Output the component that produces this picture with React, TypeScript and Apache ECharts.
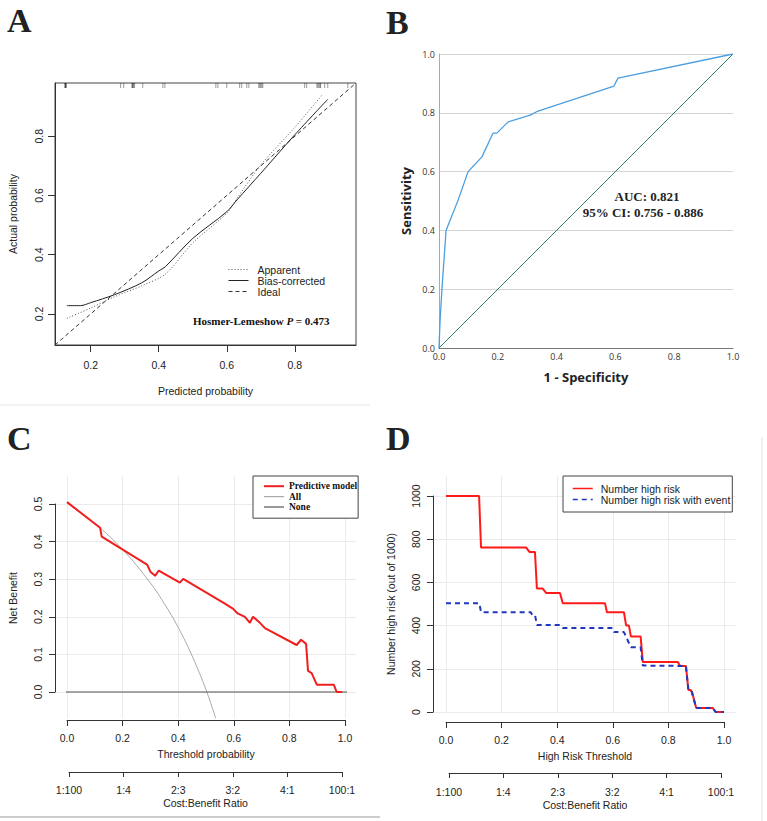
import React, { useEffect, useRef } from 'react';
import * as echarts from 'echarts';

const SANS = '"Liberation Sans", Arial, Helvetica, sans-serif';
const SERIF = '"Liberation Serif", "Times New Roman", Times, serif';
const OPEN = '"Open Sans", "Noto Sans", sans-serif';

// ---------- Panel A: calibration curve ----------
const calibRange = [0.095, 0.98];
const calibTicks = [0.2, 0.4, 0.6, 0.8];
const apparentX = [0.13, 0.2, 0.27, 0.35, 0.42, 0.5, 0.6, 0.63, 0.7, 0.8, 0.882];
const apparentY = [0.185, 0.22, 0.258, 0.295, 0.335, 0.44, 0.54, 0.59, 0.703, 0.83, 0.942];
const biasX = [0.13, 0.17, 0.2, 0.27, 0.35, 0.4, 0.42, 0.5, 0.6, 0.63, 0.7, 0.8, 0.897];
const biasY = [0.228, 0.228, 0.238, 0.265, 0.305, 0.345, 0.36, 0.455, 0.545, 0.585, 0.675, 0.805, 0.925];
const idealX = [0.095, 0.98];
const rugX = [0.124, 0.125, 0.126, 0.127, 0.128, 0.288, 0.297, 0.321, 0.323, 0.324, 0.326, 0.329, 0.353,
  0.412, 0.418, 0.568, 0.574, 0.6, 0.638, 0.644, 0.659, 0.665, 0.694, 0.697, 0.7, 0.703, 0.706,
  0.829, 0.835, 0.865, 0.868, 0.871, 0.874, 0.876, 0.888, 0.897, 0.956];
const hosmerP = '0.473';

// ---------- Panel B: ROC ----------
const rocFpr = [0, 0.004, 0.01, 0.024, 0.065, 0.099, 0.146, 0.184, 0.197, 0.235, 0.31, 0.337, 0.595, 0.609, 1];
const rocTpr = [0, 0.1, 0.2, 0.4, 0.503, 0.6, 0.65, 0.731, 0.731, 0.769, 0.792, 0.806, 0.891, 0.918, 1];
const refDiag = [0, 1];
const aucText = 'AUC: 0.821';
const ciText = '95% CI: 0.756 - 0.886';

// ---------- Panel C: decision curve ----------
const dcaThr = [0, 0.119, 0.125, 0.288, 0.3, 0.317, 0.33, 0.406, 0.418, 0.568, 0.598, 0.612, 0.64, 0.658, 0.669, 0.694, 0.712, 0.826, 0.842, 0.86, 0.867, 0.88, 0.899, 0.96, 0.97, 0.99];
const dcaModel = [0.505, 0.437, 0.413, 0.339, 0.32, 0.309, 0.323, 0.291, 0.301, 0.235, 0.221, 0.21, 0.2, 0.184, 0.2, 0.184, 0.17, 0.125, 0.139, 0.128, 0.056, 0.05, 0.019, 0.019, 0, 0];
const dcaAllThr = [0, 0.1, 0.2, 0.3, 0.35, 0.4, 0.45, 0.5, 0.535];
const dcaAll = [0.503, 0.448, 0.379, 0.29, 0.235, 0.172, 0.096, 0.006, -0.07];
const dcaNoneThr = [-0.043, 1.04];
const dcaNone = [0, 0];
const costLabels = ['1:100', '1:4', '2:3', '3:2', '4:1', '100:1'];

// ---------- Panel D: clinical impact curve ----------
const riskThr = [0, 0.119, 0.126, 0.288, 0.3, 0.32, 0.327, 0.347, 0.36, 0.41, 0.42, 0.572, 0.579, 0.64, 0.648, 0.658, 0.665, 0.7, 0.708, 0.834, 0.842, 0.863, 0.872, 0.88, 0.885, 0.9, 0.96, 0.97, 1.0];
const riskN = [1000, 1000, 762, 762, 741, 741, 572, 572, 551, 551, 503, 503, 462, 462, 400, 400, 350, 350, 231, 231, 213, 213, 102, 102, 92, 18, 18, 0, 0];
const eventThr = [0, 0.12, 0.126, 0.305, 0.31, 0.32, 0.327, 0.41, 0.42, 0.6, 0.605, 0.64, 0.665, 0.7, 0.708, 0.863, 0.872, 0.88, 0.885, 0.9, 0.96, 0.97, 1.0];
const eventN = [503, 503, 462, 462, 450, 450, 403, 403, 389, 389, 370, 370, 300, 300, 215, 213, 100, 100, 90, 18, 18, 0, 0];

const zip = (xs: number[], ys: number[]) => xs.map((x, i) => [x, ys[i]]);

const rText = { fontFamily: SANS, fontSize: 10.5, color: '#222' };
const hiddenAxis = (gridIndex: number, extra: any = {}) => ({
  gridIndex, type: 'value', min: 0, max: 1,
  axisLine: { show: false }, axisTick: { show: false }, axisLabel: { show: false }, splitLine: { show: false },
  ...extra,
});
const rAxis = (gridIndex: number, extra: any = {}) => ({
  gridIndex, type: 'value',
  axisLine: { show: true, onZero: false, lineStyle: { color: '#333', width: 1 } },
  axisTick: { show: true, length: 6, lineStyle: { color: '#333', width: 1 } },
  axisLabel: { show: true, margin: 12, ...rText, formatter: (v: number) => v.toFixed(1) },
  splitLine: { show: false },
  nameLocation: 'middle',
  nameTextStyle: { ...rText },
  ...extra,
});
const gridLineStyle = { color: '#ebebeb', width: 1 };
const letter = (t: string, x: number, y: number) => ({
  type: 'text', x, y,
  style: { text: t, fontFamily: SERIF, fontWeight: 'bold', fontSize: 34, fill: '#222', textVerticalAlign: 'middle' },
});

export default function App() {
  const ref = useRef<HTMLDivElement>(null);
  useEffect(() => {
    if (!ref.current) return;
    const chart = echarts.init(ref.current, null, { renderer: 'svg' });
    const option: any = {
      animation: false,
      backgroundColor: '#ffffff',
      grid: [
        { left: 55, top: 83, width: 301, height: 262, show: true, borderColor: '#444', borderWidth: 1, backgroundColor: 'transparent' },
        { left: 439, top: 54, width: 294, height: 294 },
        { left: 67, top: 504, width: 278, height: 188 },
        { left: 67, top: 476, width: 278, height: 242 },
        { left: 55, top: 504, width: 301, height: 188 },
        { left: 69, top: 771, width: 273, height: 1 },
        { left: 446, top: 496, width: 278, height: 216 },
        { left: 446, top: 476, width: 278, height: 237 },
        { left: 433, top: 496, width: 303, height: 216 },
        { left: 449, top: 772, width: 272, height: 1 },
      ],
      xAxis: [
        rAxis(0, {
          min: calibRange[0], max: calibRange[1],
          axisTick: { show: true, length: 7, customValues: calibTicks, lineStyle: { color: '#333' } },
          axisLabel: { show: true, margin: 14, ...rText, customValues: calibTicks, formatter: (v: number) => v.toFixed(1) },
          name: 'Predicted probability', nameGap: 40,
        }),
        {
          gridIndex: 1, type: 'value', min: 0, max: 1, interval: 0.2,
          axisLine: { show: true, onZero: false, lineStyle: { color: '#777', width: 1 } },
          axisTick: { show: false },
          axisLabel: { margin: 4, fontFamily: OPEN, fontSize: 9, color: '#333', formatter: (v: number) => v.toFixed(1) },
          splitLine: { show: false },
          name: '1 - Specificity', nameLocation: 'middle', nameGap: 22,
          nameTextStyle: { fontFamily: OPEN, fontSize: 13, fontWeight: 'bold', color: '#222' },
        },
        rAxis(2, { min: 0, max: 1, interval: 0.2, offset: 28, name: 'Threshold probability', nameGap: 28 }),
        hiddenAxis(3, { interval: 0.2, splitLine: { show: true, lineStyle: gridLineStyle } }),
        hiddenAxis(4),
        rAxis(5, {
          min: 0, max: 1, interval: 0.2,
          axisTick: { show: true, length: 5, lineStyle: { color: '#333' } },
          axisLabel: { show: true, margin: 12, ...rText, formatter: (v: number) => costLabels[Math.round(v / 0.2)] },
          name: 'Cost:Benefit Ratio', nameGap: 25,
        }),
        rAxis(6, { min: 0, max: 1, interval: 0.2, offset: 10, name: 'High Risk Threshold', nameGap: 28 }),
        hiddenAxis(7, { interval: 0.2, splitLine: { show: true, lineStyle: gridLineStyle } }),
        hiddenAxis(8),
        rAxis(9, {
          min: 0, max: 1, interval: 0.2,
          axisTick: { show: true, length: 5, lineStyle: { color: '#333' } },
          axisLabel: { show: true, margin: 13, ...rText, formatter: (v: number) => costLabels[Math.round(v / 0.2)] },
          name: 'Cost:Benefit Ratio', nameGap: 26,
        }),
      ],
      yAxis: [
        rAxis(0, {
          min: calibRange[0], max: calibRange[1],
          axisTick: { show: true, length: 7, customValues: calibTicks, lineStyle: { color: '#333' } },
          axisLabel: { show: true, margin: 11, rotate: 90, ...rText, customValues: calibTicks, formatter: (v: number) => v.toFixed(1) },
          name: 'Actual probability', nameGap: 37,
        }),
        {
          gridIndex: 1, type: 'value', min: 0, max: 1, interval: 0.2,
          axisLine: { show: true, onZero: false, lineStyle: { color: '#aaa', width: 1 } },
          axisTick: { show: false },
          axisLabel: { margin: 4, fontFamily: OPEN, fontSize: 9, color: '#333', formatter: (v: number) => v.toFixed(1) },
          splitLine: { show: true, lineStyle: { color: '#d4d4d4', width: 1 } },
          name: 'Sensitivity', nameLocation: 'middle', nameGap: 27,
          nameTextStyle: { fontFamily: OPEN, fontSize: 13, fontWeight: 'bold', color: '#222' },
        },
        rAxis(2, { min: 0, max: 0.5, interval: 0.1, offset: 12,
          axisLabel: { show: true, margin: 12, rotate: 90, ...rText, formatter: (v: number) => v.toFixed(1) },
          name: 'Net Benefit', nameGap: 37 }),
        hiddenAxis(3),
        hiddenAxis(4, { max: 0.5, interval: 0.1, splitLine: { show: true, lineStyle: gridLineStyle } }),
        hiddenAxis(5),
        rAxis(6, { min: 0, max: 1000, interval: 200, offset: 13,
          axisLabel: { show: true, margin: 12, rotate: 90, ...rText, formatter: (v: number) => String(v) },
          name: 'Number high risk (out of 1000)', nameGap: 37 }),
        hiddenAxis(7),
        hiddenAxis(8, { max: 1000, interval: 200, splitLine: { show: true, lineStyle: gridLineStyle } }),
        hiddenAxis(9),
      ],
      legend: [
        {
          data: ['Apparent', 'Bias-corrected', 'Ideal'], orient: 'vertical', left: 228, top: 264,
          itemWidth: 20, itemHeight: 13, itemGap: 0, padding: 0, selectedMode: false,
          itemStyle: { opacity: 0 }, lineStyle: { width: 1 },
          textStyle: { ...rText, padding: [0, 0, 0, 4] },
        },
        {
          data: [
            { name: 'Predictive model', lineStyle: { width: 2 } },
            { name: 'All', lineStyle: { width: 1.2 } },
            { name: 'None', lineStyle: { width: 1.2 } },
          ],
          orient: 'vertical', left: 253, top: 476,
          itemWidth: 20, itemHeight: 13, itemGap: 0, padding: [5, 1, 6, 10], selectedMode: false,
          borderColor: '#444', borderWidth: 1, backgroundColor: '#fff',
          itemStyle: { opacity: 0 },
          textStyle: { fontFamily: SERIF, fontWeight: 'bold', fontSize: 9.5, color: '#111' },
        },
        {
          data: ['Number high risk', 'Number high risk with event'], orient: 'vertical', left: 563, top: 476,
          itemWidth: 20, itemHeight: 12, itemGap: 0, padding: [7, 2, 7, 9], selectedMode: false,
          borderColor: '#444', borderWidth: 1, backgroundColor: '#fff',
          itemStyle: { opacity: 0 }, lineStyle: { width: 1.5 },
          textStyle: { ...rText, padding: [0, 0, 0, 3] },
        },
      ],
      series: [
        // A
        { name: 'Apparent', type: 'line', xAxisIndex: 0, yAxisIndex: 0, symbol: 'none', smooth: 0.3,
          data: zip(apparentX, apparentY), lineStyle: { color: '#555', width: 1, type: [1, 2] }, itemStyle: { color: '#555' } },
        { name: 'Bias-corrected', type: 'line', xAxisIndex: 0, yAxisIndex: 0, symbol: 'none', smooth: 0.3,
          data: zip(biasX, biasY), lineStyle: { color: '#222', width: 1 }, itemStyle: { color: '#222' } },
        { name: 'Ideal', type: 'line', xAxisIndex: 0, yAxisIndex: 0, symbol: 'none',
          data: zip(idealX, idealX), lineStyle: { color: '#333', width: 1, type: [4, 3] }, itemStyle: { color: '#333' } },
        { name: 'rug', type: 'custom', xAxisIndex: 0, yAxisIndex: 0,
          data: rugX.map((v) => [v, calibRange[1]]),
          renderItem: (params: any, api: any) => {
            const p = api.coord([api.value(0), api.value(1)]);
            return { type: 'line', shape: { x1: p[0], y1: p[1], x2: p[0], y2: p[1] + 5 },
              style: { stroke: '#000', opacity: 0.4, lineWidth: 1 } };
          } },
        // B
        { name: 'reference', type: 'line', xAxisIndex: 1, yAxisIndex: 1, symbol: 'none',
          data: zip(refDiag, refDiag), lineStyle: { color: '#2f7d70', width: 1 } },
        { name: 'ROC', type: 'line', xAxisIndex: 1, yAxisIndex: 1, symbol: 'none',
          data: zip(rocFpr, rocTpr), lineStyle: { color: '#4b9fe1', width: 1.3 } },
        // C
        { name: 'All', type: 'line', xAxisIndex: 2, yAxisIndex: 2, symbol: 'none', smooth: 0.4, clip: false,
          data: zip(dcaAllThr, dcaAll), lineStyle: { color: '#aaaaaa', width: 1 }, itemStyle: { color: '#aaaaaa' } },
        { name: 'None', type: 'line', xAxisIndex: 2, yAxisIndex: 2, symbol: 'none', clip: false,
          data: zip(dcaNoneThr, dcaNone), lineStyle: { color: '#555', width: 1.2 }, itemStyle: { color: '#555' } },
        { name: 'Predictive model', type: 'line', xAxisIndex: 2, yAxisIndex: 2, symbol: 'none', clip: false,
          data: zip(dcaThr, dcaModel), lineStyle: { color: '#f01e1e', width: 2 }, itemStyle: { color: '#f01e1e' } },
        // D
        { name: 'Number high risk', type: 'line', xAxisIndex: 6, yAxisIndex: 6, symbol: 'none', clip: false,
          data: zip(riskThr, riskN), lineStyle: { color: '#ff1a1a', width: 2 }, itemStyle: { color: '#ff1a1a' } },
        { name: 'Number high risk with event', type: 'line', xAxisIndex: 6, yAxisIndex: 6, symbol: 'none', clip: false,
          data: zip(eventThr, eventN), lineStyle: { color: '#2038c0', width: 2, type: [5, 4] }, itemStyle: { color: '#2038c0' } },
      ],
      graphic: [
        { type: 'line', shape: { x1: 0, y1: 405, x2: 370, y2: 405 }, style: { stroke: '#e6e6e6', lineWidth: 1 } },
        { type: 'line', shape: { x1: 0, y1: 817, x2: 380, y2: 817 }, style: { stroke: '#999', lineWidth: 1 } },
        { type: 'line', shape: { x1: 762, y1: 437, x2: 762, y2: 821 }, style: { stroke: '#e2e2e2', lineWidth: 1 } },
        letter('A', 7, 20),
        letter('B', 386, 22),
        letter('C', 7, 438),
        letter('D', 386, 438),
        { type: 'text', x: 193, y: 321, style: {
          text: '{b|Hosmer-Lemeshow }{i|P}{b| = ' + hosmerP + '}', textVerticalAlign: 'middle',
          rich: {
            b: { fontFamily: SERIF, fontWeight: 'bold', fontSize: 11, fill: '#111' },
            i: { fontFamily: SERIF, fontWeight: 'bold', fontStyle: 'italic', fontSize: 11, fill: '#111' },
          } } },
        { type: 'text', x: 647, y: 196, style: { text: aucText, fontFamily: SERIF, fontWeight: 'bold', fontSize: 13, fill: '#222', textAlign: 'center', textVerticalAlign: 'middle' } },
        { type: 'text', x: 643, y: 212, style: { text: ciText, fontFamily: SERIF, fontWeight: 'bold', fontSize: 13, fill: '#222', textAlign: 'center', textVerticalAlign: 'middle' } },
      ],
    };
    chart.setOption(option);
    return () => chart.dispose();
  }, []);
  return <div ref={ref} style={{ position: 'absolute', left: 0, top: 0, width: 767, height: 821 }} />;
}
